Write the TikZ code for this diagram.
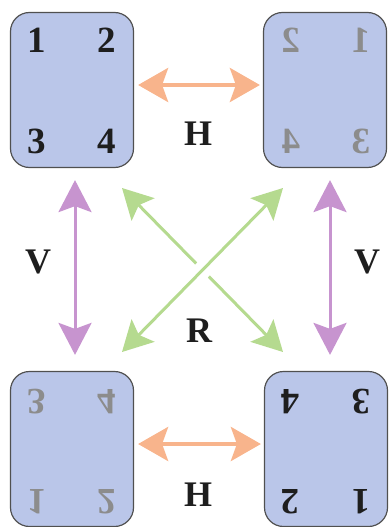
\documentclass[tikz,border=0pt]{standalone}
\usepackage{fontspec}
\setmainfont{Liberation Serif}
\usetikzlibrary{arrows.meta,calc}
\definecolor{boxfill}{HTML}{BAC6E9}
\definecolor{boxline}{HTML}{505050}
\definecolor{harrow}{HTML}{F8B48C}
\definecolor{varrow}{HTML}{C794CF}
\definecolor{rarrow}{HTML}{B5DA8F}
\definecolor{ghost}{HTML}{8C8C8C}
\definecolor{ink}{HTML}{1E1E1E}
\begin{document}
\begin{tikzpicture}[x=1pt,y=-1pt,
  card/.style={draw=boxline, fill=boxfill, line width=1.2pt, rounded corners=19pt, minimum width=123pt, minimum height=155pt, inner sep=0pt},
  dig/.style={font=\fontsize{37}{37}\selectfont\bfseries, inner sep=0pt, text depth=0pt, text=ink},
  ghostdig/.style={dig, text=ghost},
  lbl/.style={font=\fontsize{36}{36}\selectfont\bfseries, text=ink, inner sep=0pt, text depth=0pt},
  harr/.style={draw=harrow, line width=4pt, {Stealth[length=30pt,width=34pt,inset=6pt]}-{Stealth[length=30pt,width=34pt,inset=6pt]}},
  varr/.style={draw=varrow, line width=3pt, {Stealth[length=32pt,width=33pt,inset=6pt]}-{Stealth[length=32pt,width=33pt,inset=6pt]}},
  rarr/.style={draw=rarrow, line width=3pt, {Stealth[length=30pt,width=32pt,inset=6pt]}-{Stealth[length=30pt,width=32pt,inset=6pt]}}
]
\useasboundingbox (0,0) rectangle (389,527);
% cards
\node[card] (tl) at (72,90) {};
\node[card] (tr) at (325,90) {};
\node[card] (bl) at (72,449) {};
\node[card] (br) at (326,449) {};
% top-left: original
\node[dig] (tl1) at (37,40) {1};
\node[dig] (tl2) at (107,40) {2};
\node[dig] (tl3) at (37,141) {3};
\node[dig] (tl4) at (107,141) {4};
% top-right: mirrored horizontally
\node[ghostdig, xscale=-1] (tr2) at (291,40) {2};
\node[ghostdig, xscale=-1] (tr1) at (361,40) {1};
\node[ghostdig, xscale=-1] (tr4) at (291,141) {4};
\node[ghostdig, xscale=-1] (tr3) at (361,141) {3};
% bottom-left: mirrored vertically
\node[ghostdig, yscale=-1] (bl3) at (37,402) {3};
\node[ghostdig, yscale=-1] (bl4) at (107,402) {4};
\node[ghostdig, yscale=-1] (bl1) at (37,502) {1};
\node[ghostdig, yscale=-1] (bl2) at (107,502) {2};
% bottom-right: rotated
\node[dig, rotate=180] (br4) at (290,402) {4};
\node[dig, rotate=180] (br3) at (361,402) {3};
\node[dig, rotate=180] (br2) at (290,502) {2};
\node[dig, rotate=180] (br1) at (361,502) {1};
% horizontal arrows
\draw[harr] ([shift={(4,-5)}]tl.east) -- ([shift={(-3,-5)}]tr.west);
\draw[harr] ([shift={(4,-5)}]bl.east) -- ([shift={(-3,-5)}]br.west);
% vertical arrows
\draw[varr] ([shift={(3,12)}]tl.south) -- ([shift={(3,-16)}]bl.north);
\draw[varr] ([shift={(5,12)}]tr.south) -- ([shift={(4,-16)}]br.north);
% rotation arrows
\coordinate (rnw) at (122,188);
\coordinate (rse) at (283,352);
\coordinate (rsw) at (122,352);
\coordinate (rne) at (283,188);
\draw[rarr] (rnw) -- (rse);
\draw[white, line width=18pt] ($(rsw)!0.44!(rne)$) -- ($(rsw)!0.56!(rne)$);
\draw[rarr] (rsw) -- (rne);
% labels
\node[lbl] (hT) at (198,134) {H};
\node[lbl] (hB) at (198,495) {H};
\node[lbl] (vL) at (38,262) {V};
\node[lbl] (vR) at (367,262) {V};
\node[lbl] (rC) at (199,331) {R};
\end{tikzpicture}
\end{document}
